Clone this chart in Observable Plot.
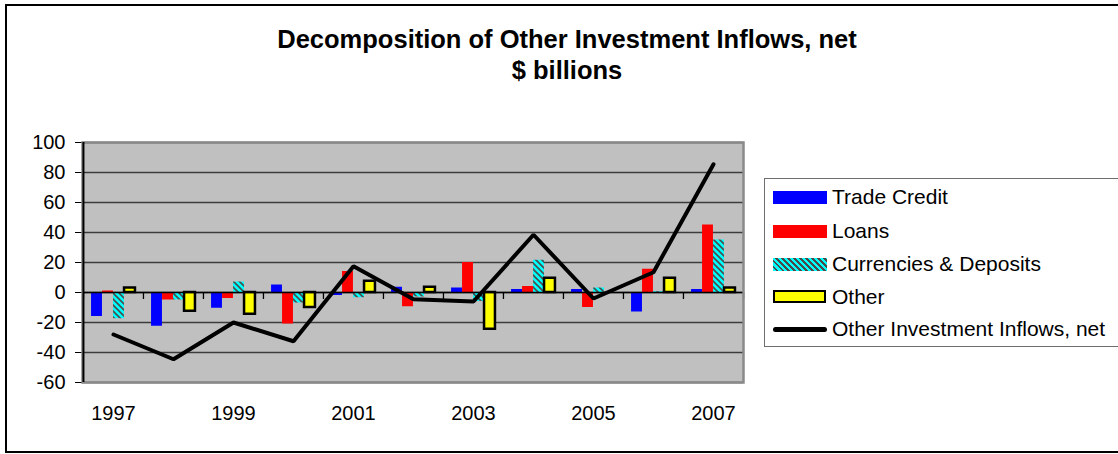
<!DOCTYPE html>
<html>
<head>
<meta charset="utf-8">
<script src="https://cdn.jsdelivr.net/npm/d3@7"></script>
<script src="https://cdn.jsdelivr.net/npm/@observablehq/plot@0.6"></script>
<style>
  body { margin: 0; background: #fff; font-family: "Liberation Sans", Arial, sans-serif; }
  #wrap { position: relative; width: 1118px; height: 454px; overflow: hidden; background: #fff; }
  #border { position: absolute; left: 5px; top: 4px; width: 1140px; height: 445px; border: 2px solid #000; }
  .title { position: absolute; left: 0; width: 1134px; text-align: center; font-weight: bold; font-size: 25.5px; line-height: 30px; color: #000; }
  #chart { position: absolute; left: 0; top: 0; }
  #legend { position: absolute; left: 764px; top: 178px; width: 380px; height: 167px; border: 1.5px solid #6e6e6e; background: #fff; }
  .row { position: absolute; left: 0; height: 30px; width: 380px; }
  .sw { position: absolute; left: 8px; width: 54px; }
  .lbl { position: absolute; left: 67px; font-size: 21px; line-height: 30px; top: 0; color: #000; white-space: nowrap; }
</style>
</head>
<body>
<div id="wrap">
  <div id="border"></div>
  <div class="title" style="top:24px">Decomposition of Other Investment Inflows, net</div>
  <div class="title" style="top:55px">$ billions</div>
  <div id="chart"></div>
  <div id="legend"></div>
</div>
<script>
// ---- data ----
const years = [1997, 1998, 1999, 2000, 2001, 2002, 2003, 2004, 2005, 2006, 2007];
const tradeCredit = [-16, -22.5, -10.5, 5, -2, 3.5, 3, 2, 2, -13, 2];
const loans = [1, -5, -4, -21, 14, -9.5, 20, 4, -10, 15.5, 45];
const currenciesDeposits = [-17.5, -5, 7, -7, -3.5, -3, -6, 21.5, 3, 0.5, 35];
const otherFlows = [3, -12.5, -14.5, -10, 7.5, 3.5, -24.5, 9.5, 0, 9.5, 3];
const netInflows = [-28, -44.5, -20, -32.5, 17.5, -4.5, -6, 38.5, -4, 13.5, 85.5];
const seriesNames = ["Trade Credit", "Loans", "Currencies & Deposits", "Other"];
const lineName = "Other Investment Inflows, net";
const yTicks = [-60, -40, -20, 0, 20, 40, 60, 80, 100];
const xTickLabels = [1997, 1999, 2001, 2003, 2005, 2007];

// ---- build tables ----
const seriesValues = [tradeCredit, loans, currenciesDeposits, otherFlows];
const lineData = years.map((year, i) => ({year, value: netInflows[i]}));
const barData = (k) => years.map((year, i) => ({year, series: seriesNames[k], value: seriesValues[k][i]}))
  .filter(d => d.value !== 0);

const W = 760, H = 454;
const mL = 82, mR = 17, mT = 142, mB = 72;
const bw = (W - mL - mR) / years.length;
const barW = 11, groupStart = (bw - 4 * barW) / 2;
const inset = (k) => ({insetLeft: groupStart + barW * k, insetRight: bw - (groupStart + barW * (k + 1))});

const styles = [
  {fill: "#0000ff"},
  {fill: "#ff0000"},
  {fill: "url(#hatch)"},
  {fill: "#ffff00", stroke: "#000", strokeWidth: 2.5}
];

const chart = Plot.plot({
  width: W, height: H,
  marginLeft: mL, marginRight: mR, marginTop: mT, marginBottom: mB,
  style: {fontSize: "20px", fontFamily: "'Liberation Sans', Arial, sans-serif", background: "transparent", color: "#000"},
  x: {type: "band", domain: years, padding: 0, ticks: xTickLabels, tickSize: 0, tickPadding: 23, tickFormat: d => `${d}`, label: null},
  y: {domain: [-60, 100], ticks: yTicks, tickSize: 7, tickPadding: 10, tickFormat: d => `${d}`, label: null},
  marks: [
    Plot.frame({fill: "#c0c0c0"}),
    Plot.ruleY(yTicks, {stroke: "#3c3c3c", strokeWidth: 1.3}),
    ...seriesNames.map((s, k) => Plot.barY(barData(k), {x: "year", y: "value", ...inset(k), ...styles[k]})),
    Plot.ruleY([0], {stroke: "#000", strokeWidth: 1.3}),
    Plot.ruleX(years, {x: d => d, y1: 0, y2: 0, insetBottom: -7, dx: -bw / 2, stroke: "#000", strokeWidth: 1.3}),
    Plot.ruleX([years[years.length - 1]], {x: d => d, y1: 0, y2: 0, insetBottom: -7, dx: bw / 2, stroke: "#000", strokeWidth: 1.3}),
    Plot.line(lineData, {x: "year", y: "value", stroke: "#000", strokeWidth: 4, strokeLinejoin: "miter"}),
    Plot.frame({stroke: "#8a8a8a", strokeWidth: 2.5}),
    Plot.ruleX([years[0]], {x: d => d, dx: -bw / 2, stroke: "#000", strokeWidth: 2})
  ]
});

// hatch pattern for Currencies & Deposits
function addHatch(svg, id) {
  const defs = d3.select(svg).insert("defs", ":first-child");
  const p = defs.append("pattern").attr("id", id).attr("patternUnits", "userSpaceOnUse")
    .attr("width", 6).attr("height", 6);
  p.append("rect").attr("width", 6).attr("height", 6).attr("fill", "#00ffff");
  p.append("path").attr("d", "M0,0L6,6M-1,5L1,7M5,-1L7,1").attr("stroke", "#4a4a4a").attr("stroke-width", 1.6);
}
addHatch(chart, "hatch");
document.getElementById("chart").appendChild(chart);

// ---- legend ----
const legend = document.getElementById("legend");
const rowCenters = [18, 52, 85, 118, 150];
const swatchStyles = [
  "background:#0000ff;height:13px;",
  "background:#ff0000;height:13px;",
  "height:13px;background:repeating-linear-gradient(45deg,#00ffff 0 2.2px,#4a4a4a 2.2px 4.2px);",
  "background:#ffff00;height:9px;border:2.5px solid #000;width:49px;",
  "background:#000;height:5px;border-radius:3px;"
];
[...seriesNames, lineName].forEach((name, i) => {
  const row = document.createElement("div");
  row.className = "row";
  row.style.top = (rowCenters[i] - 15) + "px";
  const sw = document.createElement("div");
  sw.className = "sw";
  sw.style.cssText += swatchStyles[i];
  const hgt = parseFloat(sw.style.height) + (i === 3 ? 5 : 0);
  sw.style.top = (15 - hgt / 2) + "px";
  const lbl = document.createElement("div");
  lbl.className = "lbl";
  lbl.textContent = name;
  row.appendChild(sw);
  row.appendChild(lbl);
  legend.appendChild(row);
});
</script>
</body>
</html>
